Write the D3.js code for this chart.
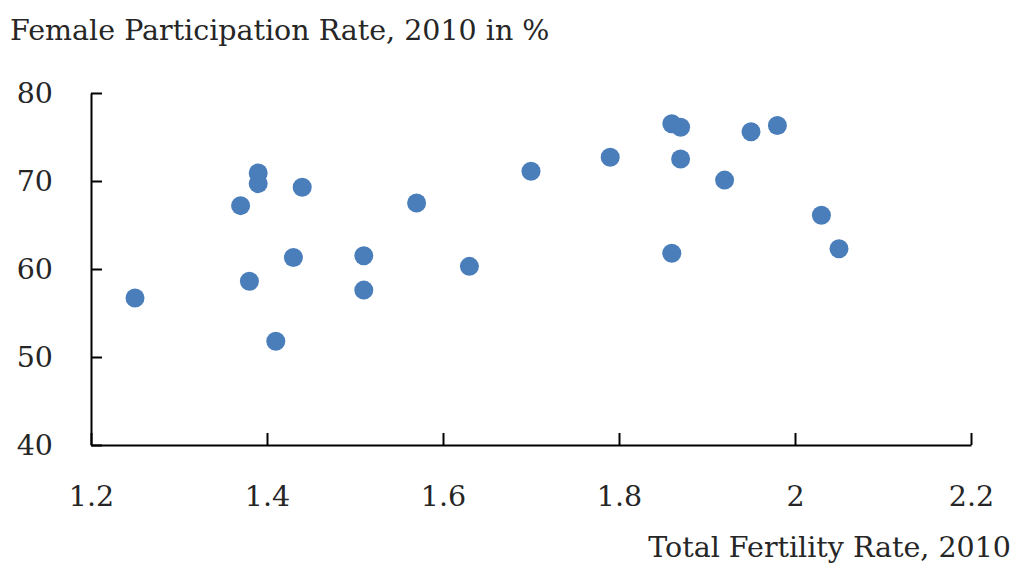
<!DOCTYPE html>
<html>
<head>
<meta charset="utf-8">
<script src="https://cdn.jsdelivr.net/npm/d3@7"></script>
<style>
  body { margin: 0; background: #fff; }
  svg text { font-family: "DejaVu Serif", "Liberation Serif", serif; fill: #262626; }
</style>
</head>
<body>
<svg></svg>
<script>
let fertility = [1.25, 1.37, 1.39, 1.39, 1.44, 1.43, 1.38, 1.41, 1.51, 1.51, 1.57, 1.63,
  1.70, 1.79, 1.86, 1.87, 1.87, 1.86, 1.92, 1.95, 1.98, 2.03, 2.05];
let participation = [56.7, 67.2, 70.9, 69.7, 69.3, 61.3, 58.6, 51.8, 61.5, 57.6, 67.5, 60.3,
  71.1, 72.7, 76.5, 76.1, 72.5, 61.8, 70.1, 75.6, 76.3, 66.1, 62.3];
let xTicks = [1.2, 1.4, 1.6, 1.8, 2.0, 2.2];
let yTicks = [40, 50, 60, 70, 80];
let yTitle = "Female Participation Rate, 2010 in %";
let xTitle = "Total Fertility Rate, 2010";

let width = 1018;
let height = 575;
let plotLeft = 91, plotRight = 971, plotTop = 93, plotBottom = 445;
let fontSize = 28.5;

let svg = d3.select("svg").attr("width", width).attr("height", height);

let xScale = d3.scaleLinear().domain([1.2, 2.2]).range([plotLeft, plotRight]);
let yScale = d3.scaleLinear().domain([40, 80]).range([plotBottom, plotTop]);

let values = fertility.map((f, i) => [f, participation[i]]);

let xAxis = d3.axisBottom(xScale)
  .tickValues(xTicks)
  .tickSizeInner(-12)
  .tickSizeOuter(0)
  .tickPadding(41)
  .tickFormat(d3.format("~g"));

let yAxis = d3.axisLeft(yScale)
  .tickValues(yTicks)
  .tickSizeInner(-11)
  .tickSizeOuter(0)
  .tickPadding(38);

let gx = svg.append("g")
  .attr("transform", "translate(0," + plotBottom + ")")
  .call(xAxis);

let gy = svg.append("g")
  .attr("transform", "translate(" + plotLeft + ",0)")
  .call(yAxis);

[gx, gy].forEach(g => {
  g.selectAll("path, line").attr("stroke", "#000").attr("stroke-width", 2);
  g.selectAll("text").style("font-size", fontSize + "px").attr("fill", "#262626");
});

svg.selectAll("circle")
  .data(values)
  .enter()
  .append("circle")
  .attr("cx", d => xScale(d[0]))
  .attr("cy", d => yScale(d[1]))
  .attr("r", 9.5)
  .attr("fill", "#4a7ebb");

svg.append("text")
  .attr("x", 10)
  .attr("y", 40)
  .style("font-size", fontSize + "px")
  .text(yTitle);

svg.append("text")
  .attr("x", 1011)
  .attr("y", 557)
  .attr("text-anchor", "end")
  .style("font-size", fontSize + "px")
  .text(xTitle);
</script>
</body>
</html>
